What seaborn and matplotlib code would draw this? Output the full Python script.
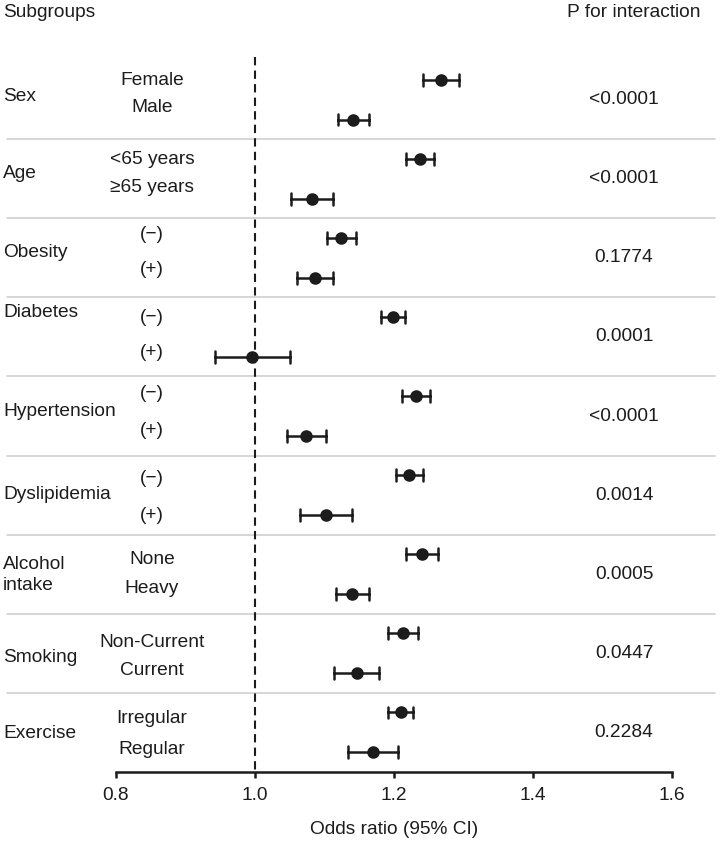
import numpy as np
import pandas as pd
import matplotlib
matplotlib.use("Agg")
import matplotlib.pyplot as plt
import seaborn as sns

# Subgroup data
groups = ["Sex", "Age", "Obesity", "Diabetes", "Hypertension",
          "Dyslipidemia", "Alcohol\nintake", "Smoking", "Exercise"]
sublabels = ["Female", "Male", "<65 years", "\u226565 years",
             "(\u2212)", "(+)", "(\u2212)", "(+)", "(\u2212)", "(+)",
             "(\u2212)", "(+)", "None", "Heavy",
             "Non-Current", "Current", "Irregular", "Regular"]
or_est = [1.267, 1.141, 1.237, 1.082, 1.124, 1.087, 1.198, 0.996, 1.231,
          1.074, 1.222, 1.102, 1.240, 1.140, 1.213, 1.147, 1.210, 1.170]
ci_low = [1.241, 1.120, 1.217, 1.052, 1.104, 1.061, 1.181, 0.943, 1.211,
          1.046, 1.203, 1.065, 1.217, 1.116, 1.192, 1.114, 1.192, 1.134]
ci_high = [1.294, 1.164, 1.257, 1.112, 1.146, 1.112, 1.216, 1.050, 1.252,
           1.102, 1.241, 1.140, 1.264, 1.164, 1.235, 1.179, 1.228, 1.206]
p_values = ["<0.0001", "<0.0001", "0.1774", "0.0001", "<0.0001",
            "0.0014", "0.0005", "0.0447", "0.2284"]
x_ticks = [0.8, 1.0, 1.2, 1.4, 1.6]

ink = "#1c1c1c"
sns.set_style("white")
plt.rcParams["font.family"] = ["Liberation Sans", "DejaVu Sans"]
plt.rcParams["font.size"] = 13.8
plt.rcParams["text.color"] = ink

# long table: lower, estimate, upper for every row -> median = estimate, min/max = CI
row_ids = [f"r{i:02d}" for i in range(len(or_est))]
df = pd.DataFrame({
    "row": np.repeat(row_ids, 3),
    "value": np.ravel(np.column_stack([ci_low, or_est, ci_high])),
})

fig = plt.figure(figsize=(7.27, 8.41), dpi=100)
ax = fig.add_axes([0, 69 / 841, 1, 772 / 841])

sns.pointplot(data=df, x="value", y="row", order=row_ids, ax=ax,
              estimator="median", errorbar=lambda v: (v.min(), v.max()),
              linestyle="none", marker="o", markersize=7, color=ink,
              capsize=0.3, err_kws={"linewidth": 1.8}, zorder=3)

n = len(or_est)
row_px = 39.53  # pixel height of one row
ax.set_xlim(0.6331, 1.6791)
ax.set_ylim(17.506, -2.024)

# reference line at OR = 1
ax.vlines(1.0, -0.58, 17.506, colors=ink, linestyles=(0, (4, 2.5)),
          linewidth=1.5, zorder=1)

# group separators
for k in range(1, n - 1, 2):
    ax.axhline(k + 0.5, xmin=7 / 727, xmax=715 / 727, color="#cfcfcf",
               linewidth=1.2, zorder=0)

tr = ax.get_yaxis_transform()
ax.text(3 / 727, -1.72, "Subgroups", transform=tr, ha="left", va="center")
ax.text(634 / 727, -1.72, "P for interaction", transform=tr,
        ha="center", va="center")

# label offsets from group centre, in pixels
name_shift = [-3, -5, -5, -24, -5, -1, 1, 4, 1]
sub_top = [-19, -19, -23, -19, -23, -17, -15, -11, -14]
sub_bot = [8, 9, 12, 16, 14, 20, 14, 17, 17]
for g, name in enumerate(groups):
    c = 2 * g + 0.5
    ax.text(3 / 727, c + name_shift[g] / row_px, name, transform=tr,
            ha="left", va="center", linespacing=1.35)
    ax.text(624 / 727, c, p_values[g], transform=tr, ha="center", va="center")
    ax.text(152 / 727, c + sub_top[g] / row_px, sublabels[2 * g],
            transform=tr, ha="center", va="center")
    ax.text(152 / 727, c + sub_bot[g] / row_px, sublabels[2 * g + 1],
            transform=tr, ha="center", va="center")

# axes styling
ax.set_yticks([])
ax.set_ylabel("")
for s in ["left", "top", "right"]:
    ax.spines[s].set_visible(False)
ax.spines["bottom"].set_bounds(0.8, 1.6)
ax.spines["bottom"].set_linewidth(1.8)
ax.spines["bottom"].set_color(ink)
ax.set_xticks(x_ticks)
ax.set_xticklabels([f"{t:.1f}" for t in x_ticks])
ax.tick_params(axis="x", bottom=True, direction="out", length=4, width=1.8,
               color=ink, labelcolor=ink, pad=7, labelsize=13.8)
ax.set_xlabel("Odds ratio (95% CI)", fontsize=13.8, color=ink)
ax.xaxis.set_label_coords(394 / 727, -0.063)
ax.xaxis.label.set_va("top")
ax.patch.set_alpha(0)

fig.savefig("out.png", dpi=100)
